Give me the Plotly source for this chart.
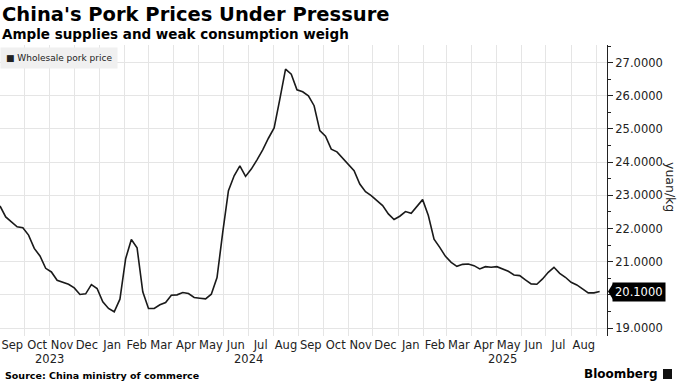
import pandas as pd
import plotly.graph_objects as go

# Weekly wholesale pork price (yuan/kg), from 2023-09-01
start_date = "2023-09-01"
prices = [
    22.68, 22.35, 22.20, 22.05, 22.02, 21.80, 21.40, 21.17, 20.80, 20.69,
    20.44, 20.39, 20.32, 20.21, 20.01, 20.03, 20.31, 20.19, 19.79, 19.59,
    19.49, 19.87, 21.09, 21.67, 21.42, 20.09, 19.59, 19.59, 19.70, 19.77,
    19.99, 20.00, 20.07, 20.04, 19.92, 19.90, 19.88, 20.02, 20.52, 21.88,
    23.14, 23.59, 23.89, 23.57, 23.79, 24.07, 24.37, 24.72, 25.03, 25.90,
    26.80, 26.65, 26.18, 26.12, 26.00, 25.70, 24.95, 24.78, 24.39, 24.31,
    24.11, 23.94, 23.74, 23.34, 23.11, 22.99, 22.84, 22.69, 22.44, 22.27,
    22.37, 22.51, 22.46, 22.67, 22.87, 22.39, 21.68, 21.43, 21.16, 20.98,
    20.86, 20.92, 20.93, 20.88, 20.78, 20.85, 20.83, 20.85, 20.78, 20.71,
    20.60, 20.58, 20.45, 20.33, 20.32, 20.48, 20.68, 20.83, 20.65, 20.53,
    20.38, 20.30, 20.18, 20.06, 20.06, 20.10,
]
dates = pd.date_range(start_date, periods=len(prices), freq="7D")

y_tickvals = [19, 20, 21, 22, 23, 24, 25, 26, 27]
x_range = ["2023-09-01", "2025-09-14"]
years = [2023, 2024, 2025]

title = "China's Pork Prices Under Pressure"
subtitle = "Ample supplies and weak consumption weigh"
series_name = "Wholesale pork price"
source = "Source: China ministry of commerce"
unit = "yuan/kg"

last_val = prices[-1]
# tick labels hidden behind the last-value tag
y_ticktext = ["" if abs(v - last_val) < 0.5 else f"{v:.4f}" for v in y_tickvals]

FONT = "DejaVu Sans"
GRID = "#e5e5e5"
TXT = "#222222"

W, H = 680, 383
ML, MR, MT, MB = 0, 73, 45, 47
PW, PH = W - ML - MR, H - MT - MB

fig = go.Figure()
fig.add_trace(go.Scatter(
    x=dates, y=prices, mode="lines",
    line=dict(color="#1a1a1a", width=1.6),
    name=series_name, showlegend=False, hoverinfo="skip",
))

fig.update_layout(
    width=W, height=H,
    margin=dict(l=ML, r=MR, t=MT, b=MB, autoexpand=False),
    paper_bgcolor="white", plot_bgcolor="white",
    font=dict(family=FONT, size=12, color=TXT),
    xaxis=dict(
        type="date", range=x_range,
        dtick="M1", tickformat="%b", ticklabelmode="period",
        tickangle=0, automargin=False,
        showgrid=True, gridcolor=GRID, gridwidth=1,
        ticks="", ticklabelstandoff=0,
        showline=False, zeroline=False,
        tickfont=dict(family=FONT, size=11.5, color=TXT),
    ),
    yaxis=dict(
        side="right", range=[18.76, 27.53], automargin=False,
        tickvals=y_tickvals, ticktext=y_ticktext,
        showgrid=True, gridcolor=GRID, gridwidth=1,
        showline=True, linecolor="#222", linewidth=1,
        ticks="outside", ticklen=5, tickcolor="#222",
        minor=dict(dtick=0.5, tick0=19, ticks="outside", ticklen=3,
                   tickcolor="#222", showgrid=False),
        zeroline=False,
        tickfont=dict(family=FONT, size=11.5, color=TXT),
    ),
)


def px_x(xpix):
    return (xpix - ML) / PW


def px_y(ypix):
    return 1 + (MT - ypix) / PH


def text_at(txt, xpix, ypix, size, xanchor="left", color="black"):
    return dict(text=txt, x=px_x(xpix), y=px_y(ypix), xref="paper", yref="paper",
                xanchor=xanchor, yanchor="middle", showarrow=False,
                font=dict(family=FONT, size=size, color=color))


annotations = [
    text_at(f"<b>{title}</b>", 0, 15, 19.5),
    text_at(f"<b>{subtitle}</b>", 0, 34, 13.5),
    text_at(f"<b>{source}</b>", 3, 375, 9.5),
    text_at("<b>Bloomberg</b>", 660, 374, 12, xanchor="right"),
]
unit_ann = text_at(unit, 671, 187, 12.5, xanchor="center", color=TXT)
unit_ann["textangle"] = 90
annotations.append(unit_ann)

# legend box
annotations.append(dict(
    text="■ " + series_name, x=0, y=1, xref="paper", yref="paper",
    xanchor="left", yanchor="top", showarrow=False, yshift=-2,
    bgcolor="#f0f0f0", borderpad=5,
    font=dict(family=FONT, size=9, color=TXT),
))

# year labels centred on each year's visible span
xr0, xr1 = pd.Timestamp(x_range[0]), pd.Timestamp(x_range[1])
for yr in years:
    a = max(pd.Timestamp(f"{yr}-01-01"), xr0)
    b = min(pd.Timestamp(f"{yr + 1}-01-01"), xr1)
    mid = a + (b - a) / 2
    annotations.append(dict(text=str(yr), x=mid, y=0, xref="x", yref="paper",
                            xanchor="center", yanchor="middle", yshift=-23,
                            showarrow=False,
                            font=dict(family=FONT, size=11.5, color=TXT)))

# last value label
annotations.append(dict(
    text=f"{last_val:.4f}", x=1, y=last_val, xref="paper", yref="y",
    xanchor="left", yanchor="middle", xshift=5, showarrow=False,
    bgcolor="black", borderpad=2,
    font=dict(family=FONT, size=11.5, color="white"),
))
fig.update_layout(annotations=annotations)

shapes = [
    dict(type="path", xref="paper", yref="y", xsizemode="pixel", ysizemode="pixel",
         xanchor=1, yanchor=last_val, path="M 1 0 L 6 8 L 6 -8 Z",
         fillcolor="black", line=dict(width=0)),
    # Bloomberg logo mark
    dict(type="rect", xref="paper", yref="paper",
         x0=px_x(663), x1=px_x(672), y0=px_y(379), y1=px_y(369),
         fillcolor="#111", line=dict(width=0)),
]
fig.update_layout(shapes=shapes)

fig.write_html(
    "out.html",
    config={"displayModeBar": False},
    post_script="document.body.style.margin='0';document.body.style.overflow='hidden';",
)
